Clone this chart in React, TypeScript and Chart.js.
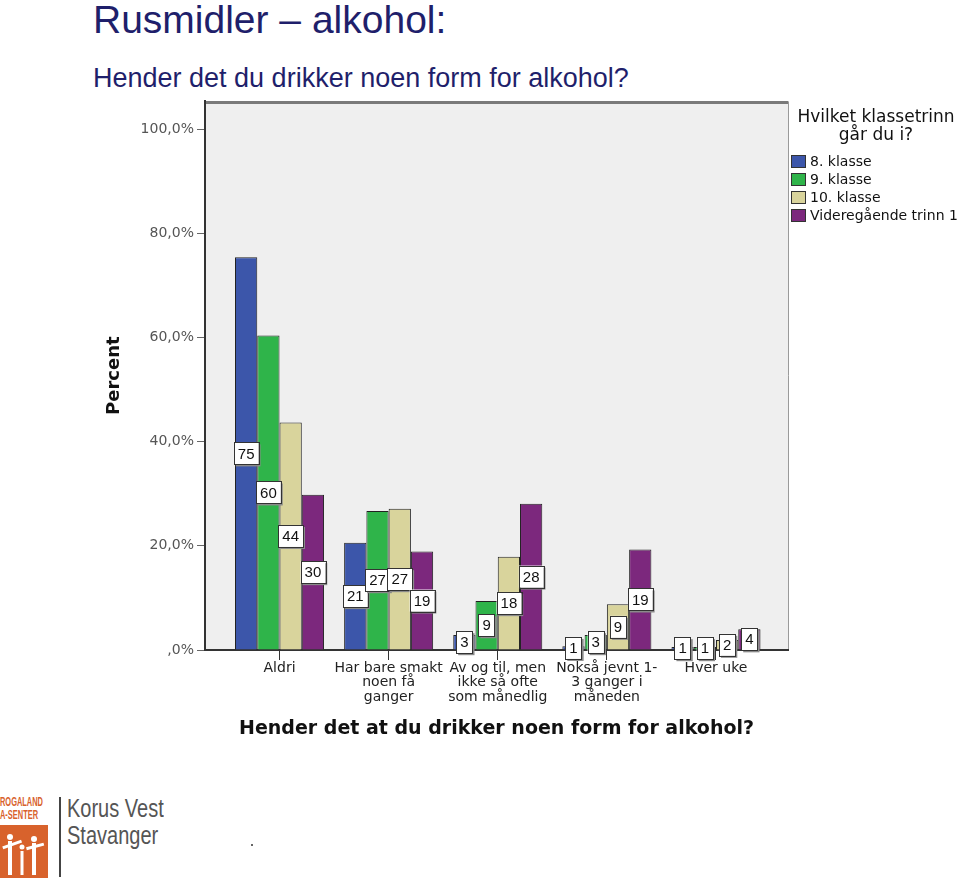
import React, { useEffect, useRef } from "react";
import { Chart, registerables } from "chart.js";

Chart.register(...registerables);

const categories: string[][] = [
  ["Aldri"],
  ["Har bare smakt", "noen få", "ganger"],
  ["Av og til, men", "ikke så ofte", "som månedlig"],
  ["Nokså jevnt 1-", "3 ganger i", "måneden"],
  ["Hver uke"],
];
const seriesNames = ["8. klasse", "9. klasse", "10. klasse", "Videregående trinn 1"];
const klasse8 = [75.4, 20.6, 2.9, 0.7, 0.6];
const klasse9 = [60.4, 26.7, 9.4, 2.9, 0.6];
const klasse10 = [43.7, 27.1, 17.9, 8.8, 1.9];
const vgs1 = [29.8, 18.9, 28.1, 19.3, 4.0];
const yTicks = [0, 20, 40, 60, 80, 100];
const colors = ["#3c56aa", "#2fb44a", "#d9d49c", "#7c287d"];

const FONT = "'Liberation Sans', Arial, sans-serif";
const WIDE = "'DejaVu Sans', 'Liberation Sans', sans-serif";

const bgPlugin = {
  id: "bgPlugin",
  beforeDraw(chart: any) {
    const { ctx, chartArea: a } = chart;
    ctx.save();
    ctx.fillStyle = "#efefef";
    ctx.fillRect(a.left, a.top, a.right - a.left, a.bottom - a.top);
    ctx.strokeStyle = "#7a7a7a";
    ctx.lineWidth = 3;
    ctx.beginPath();
    ctx.moveTo(a.left, a.top + 1);
    ctx.lineTo(a.right, a.top + 1);
    ctx.stroke();
    ctx.strokeStyle = "#9a9a9a";
    ctx.lineWidth = 1;
    ctx.beginPath();
    ctx.moveTo(a.right + 0.5, a.top);
    ctx.lineTo(a.right + 0.5, a.bottom);
    ctx.stroke();
    ctx.restore();
  },
};

const labelPlugin = {
  id: "labelPlugin",
  afterDatasetsDraw(chart: any) {
    const { ctx } = chart;
    ctx.save();
    ctx.font = `15px ${FONT}`;
    ctx.textAlign = "center";
    ctx.textBaseline = "middle";
    chart.data.datasets.forEach((ds: any, di: number) => {
      const meta = chart.getDatasetMeta(di);
      meta.data.forEach((bar: any, i: number) => {
        const v = ds.data[i].y;
        const txt = String(Math.round(v));
        const cx = bar.x;
        const cy = (bar.y + bar.base) / 2;
        const w = ctx.measureText(txt).width + 8;
        const h = 22;
        ctx.fillStyle = "#8a8a8a";
        ctx.fillRect(cx - w / 2 + 2, cy - h / 2 + 2, w, h);
        ctx.fillStyle = "#ffffff";
        ctx.fillRect(cx - w / 2, cy - h / 2, w, h);
        ctx.strokeStyle = "#333";
        ctx.lineWidth = 1;
        ctx.strokeRect(Math.round(cx - w / 2) + 0.5, Math.round(cy - h / 2) + 0.5, Math.round(w), h);
        ctx.fillStyle = "#111";
        ctx.fillText(txt, cx, cy + 1);
      });
    });
    ctx.restore();
  },
};

function ChartView() {
  const ref = useRef<HTMLCanvasElement | null>(null);
  useEffect(() => {
    if (!ref.current) return;
    const series = [klasse8, klasse9, klasse10, vgs1];
    const chart = new Chart(ref.current, {
      type: "bar",
      data: {
        datasets: series.map((vals, si) => ({
          label: seriesNames[si],
          data: vals.map((v, i) => ({ x: i, y: v })),
          backgroundColor: colors[si],
          borderColor: "#222",
          borderWidth: 1,
          categoryPercentage: 0.816,
          barPercentage: 1,
        })),
      },
      options: {
        animation: false,
        responsive: false,
        maintainAspectRatio: false,
        layout: { padding: { left: 100, right: 172, top: 8, bottom: 6 } },
        plugins: { legend: { display: false }, tooltip: { enabled: false } },
        scales: {
          x: {
            type: "linear",
            offset: false,
            min: -0.683,
            max: 4.66,
            afterBuildTicks: (axis: any) => {
              axis.ticks = categories.map((_, i) => ({ value: i }));
            },
            afterFit: (s: any) => {
              s.height = 94;
            },
            ticks: {
              autoSkip: false,
              maxRotation: 0,
              padding: 1,
              color: "#222",
              font: { family: WIDE, size: 14, lineHeight: 1.04 },
              callback: (v: any) => categories[v] ?? "",
            },
            grid: {
              display: true,
              offset: false,
              drawOnChartArea: false,
              drawTicks: true,
              tickLength: 10,
              color: "#333",
            },
            border: { display: true, color: "#333", width: 2 },
            title: {
              display: true,
              text: "Hender det at du drikker noen form for alkohol?",
              color: "#111",
              font: { family: WIDE, size: 19, weight: "bold" },
              padding: { top: 0, bottom: 4 },
            },
          },
          y: {
            min: 0,
            max: 105.34,
            afterBuildTicks: (axis: any) => {
              axis.ticks = yTicks.map((v) => ({ value: v }));
            },
            afterFit: (s: any) => {
              s.width = 105;
            },
            ticks: {
              padding: 3,
              color: "#555",
              font: { family: WIDE, size: 14 },
              callback: (v: any) => (v === 0 ? ",0%" : `${v},0%`),
            },
            grid: { display: true, drawOnChartArea: false, drawTicks: true, tickLength: 8, color: "#666" },
            border: { display: true, color: "#333", width: 2 },
            title: {
              display: true,
              text: "Percent",
              color: "#111",
              font: { family: WIDE, size: 18, weight: "bold" },
              padding: { top: 4, bottom: 0 },
            },
          },
        },
      },
      plugins: [bgPlugin, labelPlugin],
    } as any);
    return () => chart.destroy();
  }, []);
  return (
    <canvas
      ref={ref}
      width={960}
      height={660}
      style={{ position: "absolute", left: 0, top: 90, width: 960, height: 660 }}
    />
  );
}

function Legend() {
  return (
    <div style={{ position: "absolute", left: 788, top: 107, width: 176, fontFamily: WIDE, color: "#111" }}>
      <div style={{ textAlign: "center", fontSize: 17, lineHeight: "18px" }}>
        Hvilket klassetrinn
        <br />
        går du i?
      </div>
      <div style={{ marginTop: 9 }}>
        {seriesNames.map((n, i) => (
          <div key={n} style={{ display: "flex", alignItems: "center", height: 18, whiteSpace: "nowrap" }}>
            <div
              style={{
                width: 15,
                height: 13,
                background: colors[i],
                border: "1px solid #333",
                marginLeft: 3,
                marginRight: 4,
                boxSizing: "border-box",
                flexShrink: 0,
              }}
            />
            <span style={{ fontSize: 14 }}>{n}</span>
          </div>
        ))}
      </div>
    </div>
  );
}

function Logo() {
  const orange = "#d8622c";
  return (
    <div style={{ position: "absolute", left: 0, top: 795, width: 260, height: 85 }}>
      <div
        style={{
          position: "absolute",
          left: 0,
          top: 1,
          fontFamily: "'Liberation Sans', sans-serif",
          fontSize: 12,
          lineHeight: "13px",
          color: orange,
          fontWeight: "bold",
          transform: "scaleX(0.62)",
          transformOrigin: "left top",
          whiteSpace: "nowrap",
        }}
      >
        ROGALAND
        <br />
        A-SENTER
      </div>
      <svg style={{ position: "absolute", left: 0, top: 30 }} width={50} height={54}>
        <rect x={0} y={0} width={48} height={53} fill={orange} />
        <g fill="#fff">
          <circle cx={10} cy={12} r={3} />
          <rect x={8} y={16} width={4} height={34} />
          <rect x={2} y={18} width={20} height={3} transform="rotate(-20 12 19)" />
          <circle cx={22} cy={22} r={2.5} />
          <rect x={20.5} y={26} width={3} height={24} />
          <circle cx={34} cy={14} r={3} />
          <rect x={32} y={18} width={4} height={32} />
          <rect x={26} y={20} width={18} height={3} transform="rotate(-15 35 21)" />
        </g>
      </svg>
      <div style={{ position: "absolute", left: 59, top: 2, width: 2, height: 80, background: "#444" }} />
      <div
        style={{
          position: "absolute",
          left: 67,
          top: 0,
          fontFamily: "'Liberation Sans', sans-serif",
          fontSize: 25,
          lineHeight: "27px",
          color: "#555",
          transform: "scaleX(0.8)",
          transformOrigin: "left top",
          whiteSpace: "nowrap",
        }}
      >
        Korus Vest
        <br />
        Stavanger
      </div>
      <div style={{ position: "absolute", left: 251, top: 49, width: 2, height: 2, background: "#666" }} />
    </div>
  );
}

export default function App() {
  return (
    <div style={{ position: "absolute", left: 0, top: 0, width: 960, height: 880, background: "#fff", overflow: "hidden" }}>
      <div
        style={{
          position: "absolute",
          left: 93,
          top: 0,
          fontFamily: FONT,
          fontSize: 39,
          lineHeight: "39px",
          color: "#1f1f6b",
          whiteSpace: "nowrap",
        }}
      >
        Rusmidler – alkohol:
      </div>
      <div
        style={{
          position: "absolute",
          left: 93,
          top: 63,
          fontFamily: FONT,
          fontSize: 27,
          lineHeight: "30px",
          color: "#1f1f6b",
          whiteSpace: "nowrap",
        }}
      >
        Hender det du drikker noen form for alkohol?
      </div>
      <ChartView />
      <Legend />
      <Logo />
    </div>
  );
}
